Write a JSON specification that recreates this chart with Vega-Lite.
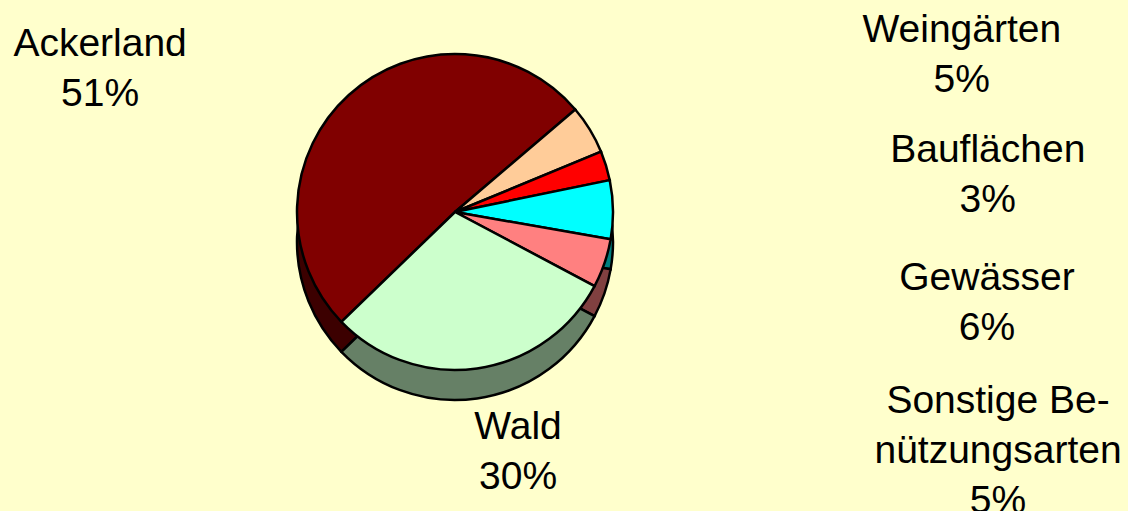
{
  "$schema": "https://vega.github.io/schema/vega-lite/v6.json",
  "width": 910,
  "height": 424,
  "autosize": {"type": "none"},
  "padding": {"left": 0, "top": 0, "right": 218, "bottom": 87},
  "background": "#FFFFCC",
  "config": {"view": {"stroke": null}},
  "data": {
    "values": [
      {"name": "Ackerland", "value": 51, "order": 1, "label": "Ackerland\n51%"},
      {"name": "Weingärten", "value": 5, "order": 2, "label": "Weingärten\n5%"},
      {"name": "Bauflächen", "value": 3, "order": 3, "label": "Bauflächen\n3%"},
      {"name": "Gewässer", "value": 6, "order": 4, "label": "Gewässer\n6%"},
      {"name": "Sonstige Benützungsarten", "value": 5, "order": 5, "label": "Sonstige Be-\nnützungsarten\n5%"},
      {"name": "Wald", "value": 30, "order": 6, "label": "Wald\n30%"}
    ]
  },
  "encoding": {
    "theta": {"field": "value", "type": "quantitative", "stack": true, "scale": {"range": [3.944, 10.227]}},
    "order": {"field": "order", "type": "quantitative"}
  },
  "layer": [
    {
      "mark": {"type": "arc", "radius": 158, "yOffset": 30, "stroke": "black", "strokeWidth": 2.5},
      "encoding": {
        "color": {"field": "name", "type": "nominal", "legend": null,
          "scale": {"domain": ["Ackerland", "Weingärten", "Bauflächen", "Gewässer", "Sonstige Benützungsarten", "Wald"],
                    "range": ["#3C0000", "#806650", "#800000", "#008080", "#804040", "#668066"]}}
      }
    },
    {
      "mark": {"type": "arc", "radius": 158, "stroke": "black", "strokeWidth": 2.5},
      "encoding": {
        "fill": {"field": "name", "type": "nominal", "legend": null,
          "scale": {"domain": ["Ackerland", "Weingärten", "Bauflächen", "Gewässer", "Sonstige Benützungsarten", "Wald"],
                    "range": ["#800000", "#FFCC99", "#FF0000", "#00FFFF", "#FF8080", "#CCFFCC"]}}
      }
    },
    {
      "mark": {"type": "text", "radius": 165, "dx": -244, "dy": -46, "fontSize": 39, "font": "Liberation Sans", "lineBreak": "\n", "lineHeight": 50, "align": "center", "baseline": "middle", "color": "black"},
      "encoding": {"text": {"condition": {"test": "datum.name === 'Ackerland'", "field": "label", "type": "nominal"}, "value": ""}}
    },
    {
      "mark": {"type": "text", "radius": 165, "dx": 366, "dy": -96, "fontSize": 39, "font": "Liberation Sans", "lineBreak": "\n", "lineHeight": 50, "align": "center", "baseline": "middle", "color": "black"},
      "encoding": {"text": {"condition": {"test": "datum.name === 'Weingärten'", "field": "label", "type": "nominal"}, "value": ""}}
    },
    {
      "mark": {"type": "text", "radius": 165, "dx": 375, "dy": -14, "fontSize": 39, "font": "Liberation Sans", "lineBreak": "\n", "lineHeight": 50, "align": "center", "baseline": "middle", "color": "black"},
      "encoding": {"text": {"condition": {"test": "datum.name === 'Bauflächen'", "field": "label", "type": "nominal"}, "value": ""}}
    },
    {
      "mark": {"type": "text", "radius": 165, "dx": 367, "dy": 68, "fontSize": 39, "font": "Liberation Sans", "lineBreak": "\n", "lineHeight": 50, "align": "center", "baseline": "middle", "color": "black"},
      "encoding": {"text": {"condition": {"test": "datum.name === 'Gewässer'", "field": "label", "type": "nominal"}, "value": ""}}
    },
    {
      "mark": {"type": "text", "radius": 165, "dx": 387, "dy": 135, "fontSize": 39, "font": "Liberation Sans", "lineBreak": "\n", "lineHeight": 50, "align": "center", "baseline": "middle", "color": "black"},
      "encoding": {"text": {"condition": {"test": "datum.name === 'Sonstige Benützungsarten'", "field": "label", "type": "nominal"}, "value": ""}}
    },
    {
      "mark": {"type": "text", "radius": 165, "dx": 40, "dy": 52, "fontSize": 39, "font": "Liberation Sans", "lineBreak": "\n", "lineHeight": 50, "align": "center", "baseline": "middle", "color": "black"},
      "encoding": {"text": {"condition": {"test": "datum.name === 'Wald'", "field": "label", "type": "nominal"}, "value": ""}}
    }
  ]
}
